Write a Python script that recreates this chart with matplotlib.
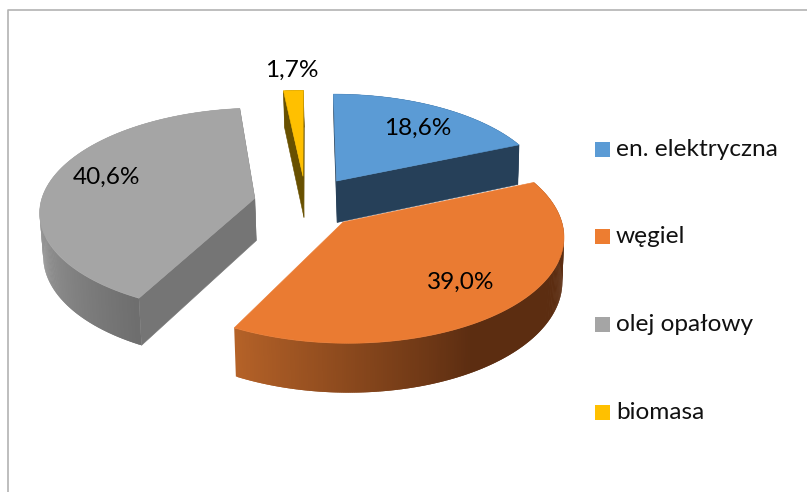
#!/usr/bin/env python3
# exploded 3D pie (perspective drawn by hand, matplotlib has no 3D pie)
import matplotlib
matplotlib.use('Agg')
import matplotlib.pyplot as plt
import numpy as np
from matplotlib.colors import to_rgb
from matplotlib.patches import Polygon, Rectangle

plt.rcParams['font.family'] = ['Lato', 'DejaVu Sans']

# data
categories = ['en. elektryczna', 'węgiel', 'olej opałowy', 'biomasa']
shares = [18.6, 39.0, 40.6, 1.7]

# style
top_colors = ['#5B9BD5', '#EA7B32', '#A5A5A5', '#FFC000']
legend_colors = ['#5B9BD5', '#ED7D31', '#A5A5A5', '#FFC000']
cut_colors = ['#264059', '#5C2D11', '#757575', '#685000']
rim_light = ['#264059', '#B56228', '#A3A3A3', '#685000']
rim_dark = ['#264059', '#5C2D11', '#6E6E6E', '#685000']
explode = [0.265, 0.25, 0.245, 0.27]
label_pos = [(418, 128), (461, 282), (107, 177), (292, 70)]
legend_y = [149.5, 236.5, 324.5, 412.5]

cx, cy = 306, 203
rx, ry = 214, 102
dist = 8.5
wall = 42.5


def project(theta, radius, shift, drop=0.0):
    """point on the disc -> pixel position"""
    xp = shift[0] + radius * np.sin(theta)
    yp = shift[1] + radius * np.cos(theta)
    s = dist / (dist + yp)
    x = cx + rx * xp * s
    y = cy - ry * yp * s + wall * s * drop
    x = x + (400 - x) * 0.01 * drop
    return x, y


fig = plt.figure(figsize=(8.07, 4.92), dpi=100)
ax = fig.add_axes([0, 0, 1, 1])
ax.set_xlim(0, 807)
ax.set_ylim(492, 0)
ax.axis('off')

# chart frame, cut off by the picture on the right and at the bottom
ax.plot([7.5, 7.5, 807], [492, 9.5, 9.5], color='#B3B3B3', lw=1.2, zorder=1)

fractions = np.array(shares) / sum(shares)
ends = np.cumsum(fractions) * 2 * np.pi
starts = ends - fractions * 2 * np.pi

z = 2
# back slices first, orange lies over the blue wall
for i in [3, 0, 2, 1]:
    a0, a1 = starts[i], ends[i]
    mid = (a0 + a1) / 2
    shift = (explode[i] * np.sin(mid), explode[i] * np.cos(mid))
    angles = np.linspace(a0, a1, max(int(np.degrees(a1 - a0)), 2) * 2)

    # flat cut faces (the orange ones look away from the viewer)
    if i != 1:
        for a in (a0, a1):
            pts = [project(a, 0, shift), project(a, 1, shift),
                   project(a, 1, shift, 1), project(a, 0, shift, 1)]
            ax.add_patch(Polygon(pts, closed=True, facecolor=cut_colors[i],
                                 edgecolor=cut_colors[i], lw=0.4, zorder=z))

    # outer wall with shading along the rim; each strip overlaps the next one
    light, dark = np.array(to_rgb(rim_light[i])), np.array(to_rgb(rim_dark[i]))
    order = angles[:-1] if i == 1 else angles[:-1][::-1]
    step = angles[1] - angles[0]
    for t0 in order:
        t1 = t0 + step
        lo, hi = (t0 - step, t1) if i == 1 else (t0, t1 + step)
        lo, hi = max(lo, a0), min(hi, a1)
        pts = [project(t, 1, shift) for t in (lo, hi)] + [project(t, 1, shift, 1) for t in (hi, lo)]
        # lightest at the lower left, darkest towards the front
        if i == 1:
            k = np.clip(np.degrees(a1 - t0) / 58, 0, 1)
        elif i == 2:
            k = 1 - np.clip(np.degrees(t0 - a0) / 62, 0, 1)
        else:
            k = 1
        col = light + (dark - light) * k
        ax.add_patch(Polygon(pts, closed=True, facecolor=col, edgecolor='none', lw=0, zorder=z))

    # top of the slice
    pts = [project(0, 0, shift)] + [project(t, 1, shift) for t in angles]
    ax.add_patch(Polygon(pts, closed=True, facecolor=top_colors[i],
                         edgecolor=top_colors[i], lw=0.4, zorder=z + 1))
    z += 2

# data labels
for v, (lx, ly) in zip(shares, label_pos):
    ax.text(lx, ly, f'{v:.1f}%'.replace('.', ','), fontsize=17.6, color='black',
            ha='center', va='center', zorder=30)

# legend
for name, col, ly in zip(categories, legend_colors, legend_y):
    ax.add_patch(Rectangle((595, ly - 7.5), 15, 15, facecolor=col, edgecolor='none', zorder=30))
    ax.text(616, ly, name, fontsize=17.6, color='#111111', ha='left', va='center', zorder=30)

fig.savefig('out.png', dpi=100)
